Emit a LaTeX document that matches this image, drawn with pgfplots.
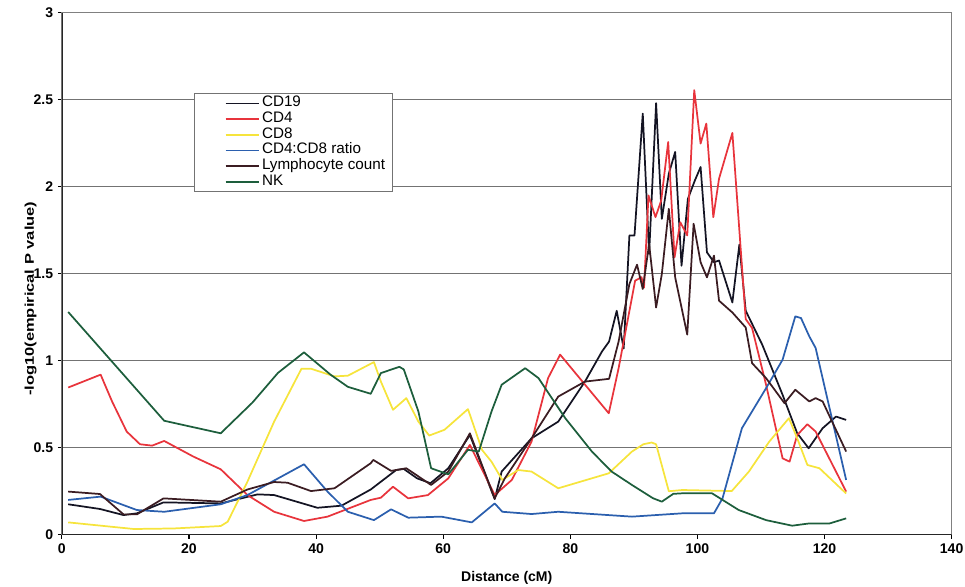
\documentclass[border=0pt]{standalone}
\usepackage{fontspec}
\setmainfont{Liberation Sans}
\usepackage{pgfplots}
\pgfplotsset{compat=1.18}
\usetikzlibrary{calc}
\definecolor{cCDnineteen}{HTML}{141423}
\definecolor{cCDfour}{HTML}{E8343C}
\definecolor{cCDeight}{HTML}{F6E43C}
\definecolor{cRatio}{HTML}{2B5FAE}
\definecolor{cLymph}{HTML}{3B1C22}
\definecolor{cNK}{HTML}{1D5E3C}
\begin{document}
\begin{tikzpicture}
\begin{axis}[
  scale only axis, width=666pt, height=390.75pt,
  xmin=0, xmax=140, ymin=0, ymax=3,
  xtick={0,20,40,60,80,100,120,140},
  ytick={0,0.5,1,1.5,2,2.5,3},
  tick pos=left, tick align=outside, major tick length=3pt,
  tick style={black, line width=0.8pt},
  ymajorgrids, grid style={black!55, line width=1.1pt},
  axis line style={black!50, line width=0.9pt},
  /pgf/number format/assume math mode=true,
  ticklabel style={font=\fontsize{10.5}{12}\selectfont\bfseries},
  yticklabel style={/pgf/number format/fixed},
  xlabel={Distance (cM)},
  ylabel={\scalebox{1.3}[1]{-log10(empirical P value)}},
  xlabel style={font=\fontsize{10.5}{12}\selectfont\bfseries, at={(axis description cs:0.5,-0.082)}, anchor=center},
  ylabel style={font=\fontsize{9.5}{11}\selectfont\bfseries, at={(axis description cs:-0.0351,0.452)}, anchor=center},
  legend style={at={(axis description cs:0.148,0.846)}, anchor=north west,
    draw=black!55, line width=0.9pt, fill=white,
    font=\fontsize{11.4}{11.4}\selectfont, inner xsep=4pt, inner ysep=1.5pt, row sep=0pt,
    nodes={inner ysep=0pt, inner xsep=1.5pt, text height=8.4pt, text depth=3.3pt}},
  legend cell align=left,
  legend image code/.code={\path (0pt,0pt); \draw[#1, line width=1.3pt] (19pt,0pt) -- (44pt,0pt);},
  every axis plot/.append style={line width=1.3pt, line join=round},
]
% CD19
\addplot[color=cCDnineteen] coordinates {
(1,0.175)(6,0.148)(9.7,0.113)(11.8,0.123)(16,0.186)(25,0.18)(30.8,0.232)(33.4,0.228)
(40.2,0.155)(44,0.167)(48.6,0.26)(52.6,0.372)(53.8,0.378)(55.9,0.324)(58,0.296)(60.8,0.382)
(64.2,0.573)(68.1,0.205)(69.2,0.363)(73.9,0.554)(78.1,0.65)(82.3,0.88)(85,1.054)(86.1,1.11)
(87.3,1.287)(88.4,1.07)(89.3,1.72)(90.1,1.72)(91.4,2.42)(92.4,1.614)(93.5,2.48)(94.4,1.815)
(95.5,2.075)(96.5,2.2)(97.5,1.546)(98.5,1.93)(99.6,2.036)(100.5,2.113)(101.5,1.623)(102.6,1.566)
(103.4,1.576)(105.5,1.335)(106.6,1.667)(107.6,1.287)(110.2,1.092)(113.4,0.804)(115.7,0.583)
(117.5,0.497)(119.7,0.612)(121.8,0.679)(123.4,0.66)};
\addlegendentry{CD19}
% CD4
\addplot[color=cCDfour] coordinates {
(1,0.846)(6.1,0.92)(7.9,0.766)(10.2,0.593)(12.3,0.52)(14.2,0.512)(16.1,0.539)(20.7,0.449)
(25,0.376)(29.2,0.228)(33.4,0.132)(38.1,0.079)(41.8,0.104)(48.6,0.2)(50.2,0.213)(52.1,0.276)
(54.5,0.209)(57.6,0.228)(60.8,0.324)(64.2,0.516)(68.1,0.228)(70.8,0.315)(73.9,0.535)(76.5,0.9)
(78.4,1.035)(86.05,0.698)(87.6,0.957)(90.2,1.46)(91.2,1.48)(91.6,1.42)(92.3,1.95)(93.4,1.825)
(94.3,1.92)(95.4,2.257)(96.4,1.594)(97.3,1.796)(98.4,1.72)(99.5,2.555)(100.5,2.248)(101.4,2.363)
(102.5,1.825)(103.4,2.046)(105.5,2.309)(107.6,1.239)(108.6,1.188)(110.8,0.862)(113.4,0.439)
(114.5,0.42)(115.7,0.573)(117.3,0.635)(118.6,0.593)(123.4,0.248)};
\addlegendentry{CD4}
% CD8
\addplot[color=cCDeight] coordinates {
(1,0.071)(11.3,0.033)(17.6,0.036)(25,0.05)(26.1,0.075)(29.2,0.305)(33.4,0.65)(37.7,0.954)
(39.2,0.954)(42.9,0.91)(45,0.914)(49.1,0.992)(50.2,0.88)(52.1,0.718)(54.2,0.785)(56.1,0.65)
(57.8,0.57)(60.2,0.603)(63.9,0.722)(66.1,0.488)(67.6,0.42)(69.3,0.315)(71.8,0.372)(73.9,0.363)
(78.1,0.267)(86.05,0.353)(89.7,0.478)(91.5,0.52)(92.8,0.53)(93.5,0.52)(95.5,0.25)(97.6,0.257)
(105.4,0.251)(108.1,0.363)(111.3,0.535)(114.4,0.67)(115.7,0.554)(117.3,0.401)(119.2,0.382)
(123.4,0.237)};
\addlegendentry{CD8}
% CD4:CD8 ratio
\addplot[color=cRatio] coordinates {
(1,0.2)(6.1,0.219)(11.8,0.142)(16.1,0.132)(25,0.175)(29.2,0.228)(38.1,0.405)(41.8,0.248)
(45,0.132)(49.1,0.084)(51.8,0.146)(54.5,0.098)(59.7,0.104)(64.5,0.071)(68.1,0.18)(69.3,0.132)
(73.9,0.119)(78.1,0.132)(89.7,0.104)(97.6,0.123)(102.6,0.123)(103.95,0.209)(107,0.612)
(110.8,0.842)(113.4,1.006)(115.4,1.255)(116.3,1.245)(117.6,1.14)(118.6,1.073)(123.4,0.315)};
\addlegendentry{CD4:CD8 ratio}
% Lymphocyte count
\addplot[color=cLymph] coordinates {
(1,0.248)(6,0.234)(9.7,0.117)(11.8,0.117)(16,0.209)(25,0.19)(29.2,0.26)(33.4,0.303)
(35.5,0.299)(39.2,0.251)(42.9,0.267)(48.6,0.411)(49,0.43)(51.8,0.367)(54.2,0.382)(58.1,0.286)
(60.8,0.363)(64.2,0.583)(68.1,0.209)(69.7,0.324)(73.9,0.554)(78.1,0.794)(82.3,0.88)(86.1,0.896)
(87.6,1.11)(89.3,1.441)(90.5,1.552)(91.4,1.412)(92.4,1.671)(93.5,1.306)(94.4,1.498)(95.5,1.873)
(96.5,1.479)(98.4,1.15)(99.4,1.787)(100.5,1.566)(101.5,1.479)(102.6,1.604)(103.4,1.345)
(105.5,1.277)(107.6,1.191)(108.6,0.986)(110.8,0.9)(113.7,0.756)(115.4,0.833)(117.6,0.766)
(118.6,0.785)(119.7,0.766)(123.4,0.478)};
\addlegendentry{Lymphocyte count}
% NK
\addplot[color=cNK] coordinates {
(1,1.28)(16.1,0.655)(25,0.583)(30,0.76)(34,0.93)(38.1,1.048)(42.3,0.919)(45,0.85)(48.6,0.81)
(50.2,0.929)(53.1,0.965)(53.8,0.95)(56.1,0.708)(58.1,0.382)(60.8,0.347)(63.9,0.488)(65.6,0.478)
(67.6,0.708)(69.2,0.862)(72.9,0.957)(75,0.9)(79.2,0.67)(83.4,0.478)(86.5,0.363)(89.7,0.286)
(93,0.21)(94.4,0.19)(96.2,0.235)(97.6,0.238)(102.3,0.238)(106.5,0.142)(110.8,0.084)
(114.9,0.052)(117.6,0.065)(120.8,0.065)(123.4,0.094)};
\addlegendentry{NK}
\draw[black!85, line width=1pt] (rel axis cs:0,0) -- (rel axis cs:0,1);
\draw[black!85, line width=1pt] (rel axis cs:0,0) -- (rel axis cs:1,0);
\end{axis}
\pgfresetboundingbox
\path ($(current axis.south west)+(-46.3pt,-38.6pt)$) rectangle ($(current axis.north east)+(10pt,9.5pt)$);
\end{tikzpicture}
\end{document}
